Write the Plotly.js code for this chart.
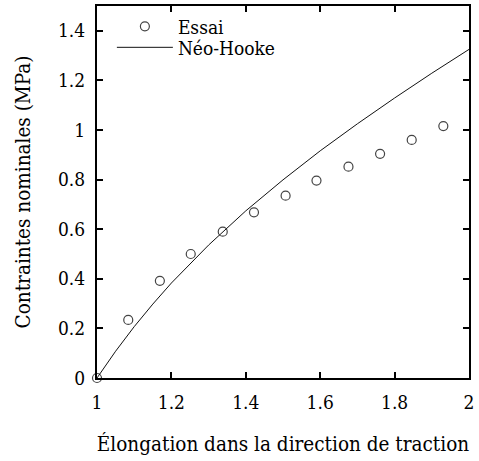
<!DOCTYPE html>
<html>
<head>
<meta charset="utf-8">
<script src="https://cdn.plot.ly/plotly-3.0.1.min.js"></script>
<style>html,body{margin:0;padding:0;background:#fff;}#chart{width:479px;height:461px;}</style>
</head>
<body>
<div id="chart"></div>
<script>
// Experimental points (Essai)
const essaiX = [1.0, 1.084, 1.169, 1.252, 1.338, 1.422, 1.507, 1.59, 1.676, 1.761, 1.846, 1.931];
const essaiY = [0.0, 0.234, 0.392, 0.500, 0.590, 0.668, 0.735, 0.796, 0.852, 0.904, 0.960, 1.016];
// Néo-Hooke curve, values
const neoX = [1.0, 1.05, 1.1, 1.15, 1.2, 1.3, 1.4, 1.5, 1.6, 1.7, 1.8, 1.9, 2.0];
const neoY = [0.0, 0.108, 0.207, 0.298, 0.383, 0.536, 0.674, 0.799, 0.916, 1.025, 1.129, 1.229, 1.325];
const xTicks = [1, 1.2, 1.4, 1.6, 1.8, 2];
const yTicks = [0, 0.2, 0.4, 0.6, 0.8, 1, 1.2, 1.4];

const FONT = 'DejaVu Serif Condensed';
const traces = [
  {x: essaiX, y: essaiY, mode: 'markers', name: 'Essai', cliponaxis: false, legend: 'legend',
   marker: {symbol: 'circle-open', size: 9, color: '#444', line: {width: 1.2, color: '#444'}}},
  {x: neoX, y: neoY, mode: 'lines', name: 'Néo-Hooke', legend: 'legend2', line: {color: '#111', width: 1}}
];
const axisCommon = {
  showgrid: false, zeroline: false, showline: true, linecolor: '#000', linewidth: 2,
  mirror: 'ticks', ticks: 'inside', ticklen: 6, tickwidth: 2, tickcolor: '#000',
  tickfont: {family: FONT, size: 19, color: '#000'}
};
const legendCommon = {xanchor: 'left', yanchor: 'middle', bgcolor: 'rgba(0,0,0,0)',
  font: {family: FONT, size: 19, color: '#000'}, itemwidth: 56, borderwidth: 0};
const layout = {
  width: 479, height: 461,
  margin: {l: 97, r: 10, t: 6, b: 83},
  paper_bgcolor: '#fff', plot_bgcolor: '#fff',
  font: {family: FONT, color: '#000'},
  xaxis: Object.assign({}, axisCommon, {range: [1, 2], tickvals: xTicks, ticktext: xTicks.map(String),
    ticklabelstandoff: 6,
    title: {text: 'Élongation dans la direction de traction', font: {family: FONT, size: 20.5}, standoff: 25}}),
  yaxis: Object.assign({}, axisCommon, {range: [0, 1.5], tickvals: yTicks, ticktext: yTicks.map(String),
    ticklabelstandoff: 6,
    title: {text: 'Contraintes nominales (MPa)', font: {family: FONT, size: 20.5}, standoff: 22}}),
  showlegend: true,
  legend: Object.assign({}, legendCommon, {x: 0.04, y: 0.945}),
  legend2: Object.assign({}, legendCommon, {x: 0.04, y: 0.8885})
};
Plotly.newPlot('chart', traces, layout, {displayModeBar: false, staticPlot: true});
</script>
</body>
</html>
